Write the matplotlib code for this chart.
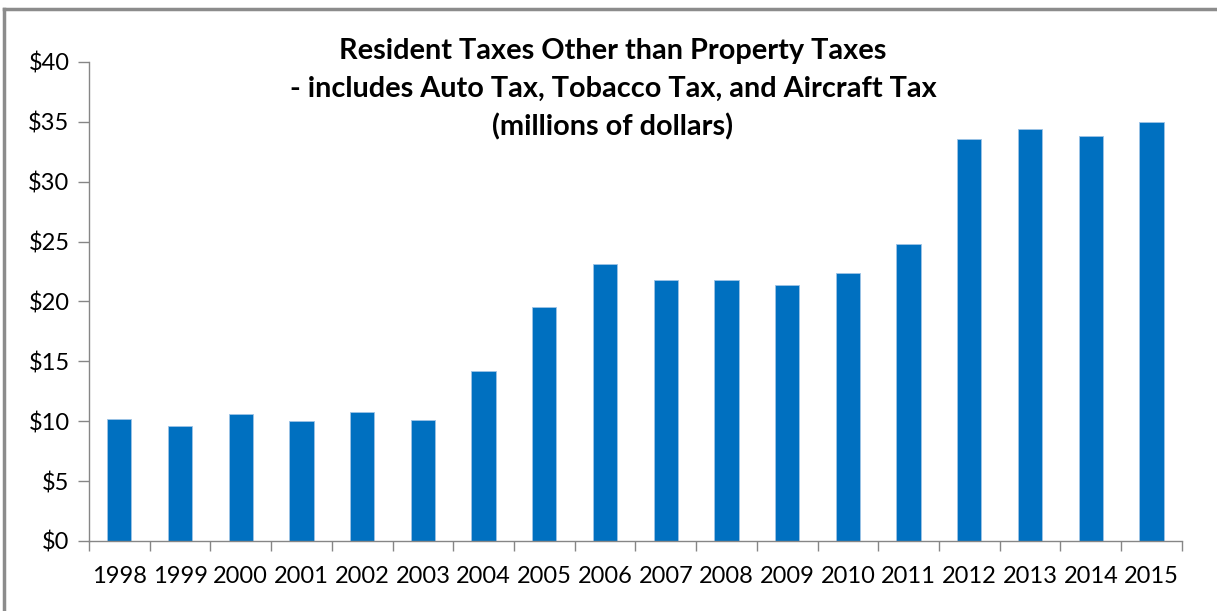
"""Bar chart of resident taxes other than property taxes, 1998-2015."""

import matplotlib
matplotlib.use('Agg')
import matplotlib.pyplot as plt
from matplotlib.lines import Line2D

YEARS = ['1998', '1999', '2000', '2001', '2002', '2003', '2004', '2005',
         '2006', '2007', '2008', '2009', '2010', '2011', '2012', '2013',
         '2014', '2015']
# millions of dollars
TAXES = [10.2, 9.6, 10.6, 10.0, 10.8, 10.1, 14.2, 19.5, 23.1, 21.8, 21.8,
         21.4, 22.4, 24.8, 33.6, 34.4, 33.8, 35.0]
Y_TICKS = [0, 5, 10, 15, 20, 25, 30, 35, 40]

TITLE = ('Resident Taxes Other than Property Taxes\n'
         '- includes Auto Tax, Tobacco Tax, and Aircraft Tax\n'
         '(millions of dollars)')

BAR_COLOR = '#0070C0'
AXIS_COLOR = '#868686'


def make_plot():
    """Draw the bar chart and save it."""
    plt.rcParams['font.family'] = ['Lato', 'DejaVu Sans']

    fig = plt.figure(figsize=(12.17, 6.11), dpi=100)
    ax = fig.add_axes([0.0731, 0.1146, 0.898, 0.784])

    xpos = range(len(YEARS))
    ax.bar(xpos, TAXES, width=0.4, color=BAR_COLOR,
           edgecolor='#9DC3E6', linewidth=0.6)

    ax.set_xlim(-0.5, len(YEARS) - 0.5)
    ax.set_ylim(0, 40)
    ax.set_yticks(Y_TICKS)
    ax.set_yticklabels(['${0}'.format(v) for v in Y_TICKS])
    ax.set_xticks(xpos)
    ax.set_xticklabels(YEARS)
    # category boundary ticks like a spreadsheet chart
    ax.set_xticks([i - 0.5 for i in range(len(YEARS) + 1)], minor=True)
    ax.tick_params(axis='x', which='major', length=0, pad=18, labelsize=17)
    ax.tick_params(axis='x', which='minor', length=7, width=1,
                   color=AXIS_COLOR, direction='out')
    ax.tick_params(axis='y', length=8, width=1, color=AXIS_COLOR,
                   direction='out', pad=6, labelsize=17)

    for side in ('top', 'right'):
        ax.spines[side].set_visible(False)
    for side in ('left', 'bottom'):
        ax.spines[side].set_color(AXIS_COLOR)
        ax.spines[side].set_linewidth(1)

    fig.text(0.5037, 0.937, TITLE, ha='center', va='top', fontsize=20.8,
             fontweight='bold', linespacing=1.52)

    # frame around the chart area
    fig.add_artist(Line2D([0.0033, 1.0], [0.9845, 0.9845],
                          transform=fig.transFigure, color='#8c8c8c', lw=2.5))
    fig.add_artist(Line2D([0.0033, 0.0033], [0.0, 0.9845],
                          transform=fig.transFigure, color='#8c8c8c', lw=2.5))

    fig.savefig('out.png', dpi=100)


if __name__ == '__main__':
    make_plot()
